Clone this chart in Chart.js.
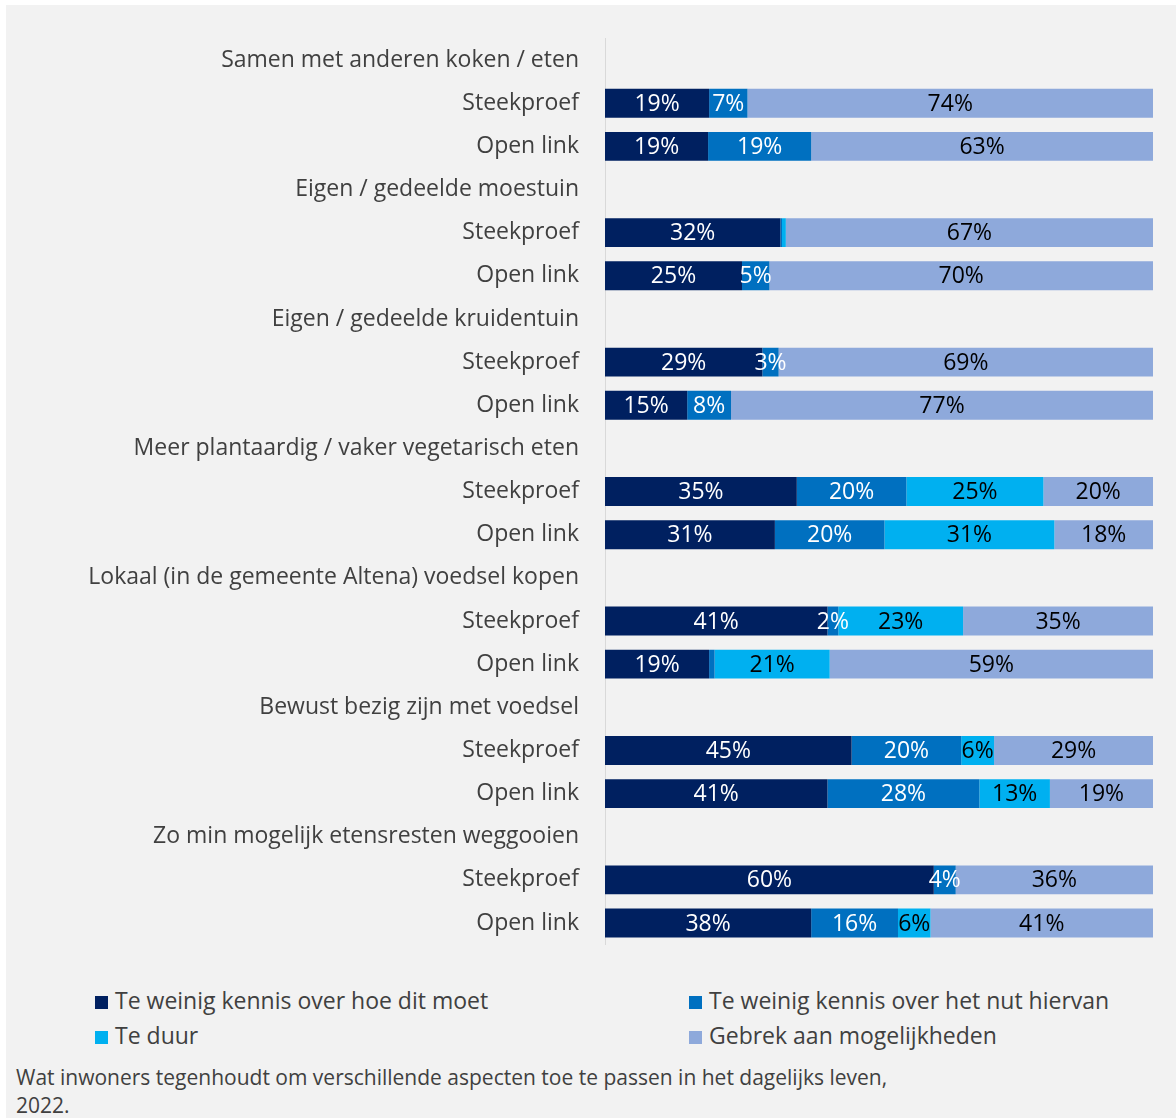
<!DOCTYPE html>
<html>
<head>
<meta charset="utf-8">
<script src="https://cdn.jsdelivr.net/npm/chart.js@4"></script>
<style>
  html, body { margin:0; padding:0; background:#ffffff; }
  #panel { position:absolute; left:6px; top:5px; width:1170px; height:1113px; background:#f2f2f2; overflow:hidden; }
  #wrap { position:absolute; left:0; top:0; width:1170px; height:955px; }
  .legend { position:absolute; font-family:"Open Sans", sans-serif; font-size:23px; color:#404040; white-space:nowrap; }
  .legend span.box { display:inline-block; width:13px; height:13px; margin-right:7px; vertical-align:0px; }
  #caption { position:absolute; left:10px; top:1058px; font-family:"Open Sans", sans-serif; font-size:21px; line-height:28px; color:#404040; }
</style>
</head>
<body>
<div id="panel">
  <div id="wrap"><canvas id="c" width="1170" height="955"></canvas></div>
  <div id="legend"></div>
  <div id="caption">Wat inwoners tegenhoudt om verschillende aspecten toe te passen in het dagelijks leven,<br>2022.</div>
</div>
<script>
// Row labels (header rows have no bars)
const rowLabels = [
  "Samen met anderen koken / eten", "Steekproef", "Open link",
  "Eigen / gedeelde moestuin", "Steekproef", "Open link",
  "Eigen / gedeelde kruidentuin", "Steekproef", "Open link",
  "Meer plantaardig / vaker vegetarisch eten", "Steekproef", "Open link",
  "Lokaal (in de gemeente Altena) voedsel kopen", "Steekproef", "Open link",
  "Bewust bezig zijn met voedsel", "Steekproef", "Open link",
  "Zo min mogelijk etensresten weggooien", "Steekproef", "Open link"
];
const seriesNames = [
  "Te weinig kennis over hoe dit moet",
  "Te weinig kennis over het nut hiervan",
  "Te duur",
  "Gebrek aan mogelijkheden"
];
// values in percent (null on header rows)
const kennisHoe  = [null,19,19, null,32,25, null,29,15, null,35,31, null,41,19, null,45,41, null,60,38];
const kennisNut  = [null,7,19,  null,0.3,5, null,3,8,   null,20,20, null,2,1,   null,20,28, null,4,16];
const teDuur     = [null,0,0,   null,0.7,0, null,0,0,   null,25,31, null,23,21, null,6,13,  null,0,6];
const gebrek     = [null,74,63, null,67,70, null,69,77, null,20,18, null,35,59, null,29,19, null,36,41];

const colors = ["#002060", "#0070C0", "#00B0F0", "#8EA9DB"];
const labelColors = ["#ffffff", "#ffffff", "#000000", "#000000"];
const raw = [kennisHoe, kennisNut, teDuur, gebrek];

// normalize each row to 100%
const totals = rowLabels.map((_, i) => raw.reduce((s, a) => s + (a[i] || 0), 0));
const norm = raw.map(a => a.map((v, i) => v === null ? null : v / totals[i] * 100));

const FONT = "'Open Sans', sans-serif";

const labelPlugin = {
  id: 'segLabels',
  afterDatasetsDraw(chart) {
    const ctx = chart.ctx;
    ctx.save();
    ctx.font = "23px " + FONT;
    ctx.textAlign = "center";
    ctx.textBaseline = "middle";
    chart.data.datasets.forEach((ds, di) => {
      const meta = chart.getDatasetMeta(di);
      meta.data.forEach((bar, i) => {
        const v = raw[di][i];
        if (v === null || v < 2) return;
        const x = (bar.x + bar.base) / 2;
        ctx.fillStyle = labelColors[di];
        ctx.fillText(Math.round(v) + "%", x, bar.y + 1);
      });
    });
    ctx.restore();
  }
};

new Chart(document.getElementById('c'), {
  type: 'bar',
  data: {
    labels: rowLabels,
    datasets: seriesNames.map((n, k) => ({
      label: n,
      data: norm[k],
      backgroundColor: colors[k],
      borderWidth: 0,
      barPercentage: 0.67,
      categoryPercentage: 1.0
    }))
  },
  options: {
    indexAxis: 'y',
    responsive: false,
    animation: false,
    layout: { padding: { top: 33.5, right: 23, bottom: 15.4, left: 0 } },
    plugins: { legend: { display: false }, tooltip: { enabled: false } },
    scales: {
      x: { stacked: true, min: 0, max: 100, display: false },
      y: {
        stacked: true,
        grid: { display: false, drawTicks: false },
        border: { display: true, color: "#d9d9d9", width: 1 },
        ticks: { padding: 26, color: "#404040", font: { family: FONT, size: 23 }, autoSkip: false },
        afterFit(scale) { scale.width = 599; scale.paddingTop = 0; scale.paddingBottom = 0; }
      }
    }
  },
  plugins: [labelPlugin]
});

// legend (2 columns)
const legendPos = [[89, 979], [683, 979], [89, 1014], [683, 1014]];
const lg = document.getElementById('legend');
seriesNames.forEach((n, k) => {
  const d = document.createElement('div');
  d.className = 'legend';
  d.style.left = legendPos[k][0] + 'px';
  d.style.top = legendPos[k][1] + 'px';
  d.innerHTML = '<span class="box" style="background:' + colors[k] + '"></span>' + n;
  lg.appendChild(d);
});
</script>
</body>
</html>
